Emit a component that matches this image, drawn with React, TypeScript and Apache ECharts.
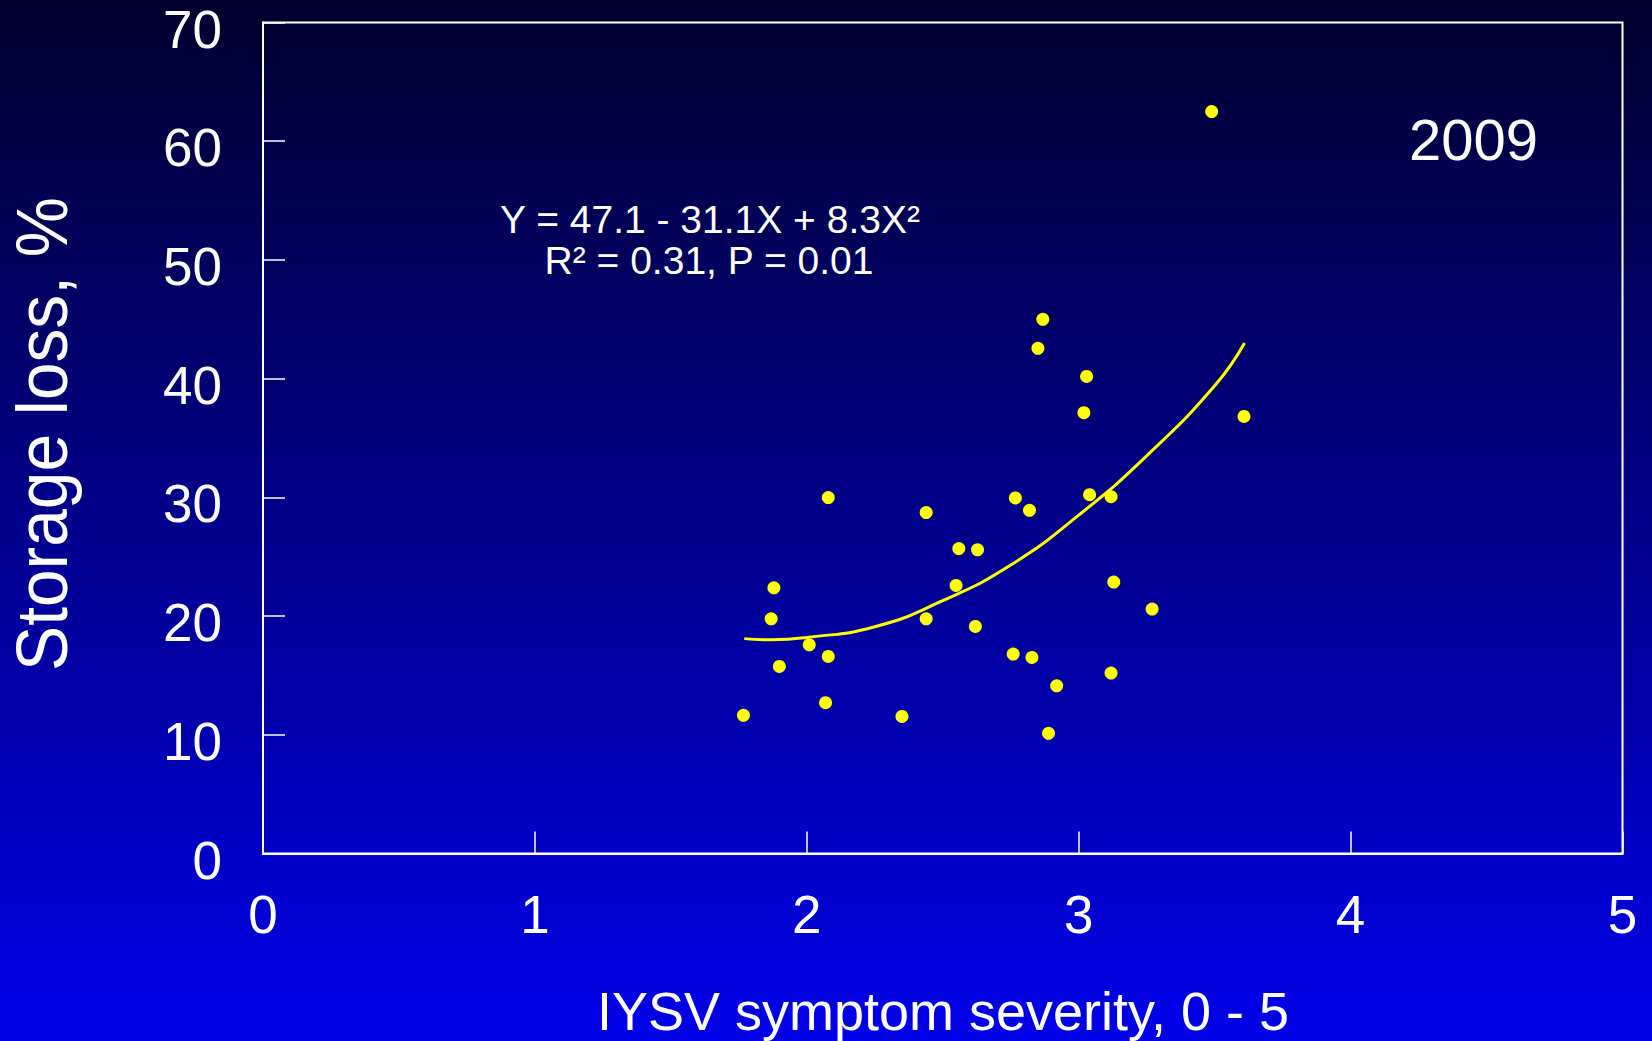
import React, { useEffect, useRef } from "react";
import * as echarts from "echarts";

// IYSV symptom severity (0-5) for each sample
const severity = [
  2.868, 2.85, 3.029, 3.019, 3.608, 2.079, 2.439, 2.767, 2.819, 3.04, 3.119,
  2.559, 2.628, 1.879, 2.549, 3.129, 3.27, 1.869, 2.439, 2.62, 2.009, 2.079,
  2.759, 2.828, 1.899, 3.119, 2.919, 2.069, 1.767, 2.35, 2.889, 3.489,
];
// Storage loss (%) for each sample
const storageLoss = [
  45.0, 42.55, 40.19, 37.13, 36.82, 29.98, 28.72, 29.95, 28.91, 30.23, 30.06,
  25.69, 25.58, 22.38, 22.58, 22.86, 20.59, 19.77, 19.77, 19.13, 17.58, 16.6,
  16.8, 16.52, 15.76, 15.2, 14.13, 12.7, 11.64, 11.55, 10.12, 62.5,
];
// Fitted curve
const fitX = [1.77, 1.87, 2.0, 2.25, 2.5, 2.75, 3.0, 3.25, 3.5, 3.61];
const fitY = [18.1, 18.0, 18.2, 19.1, 21.3, 24.3, 28.5, 33.5, 39.4, 43.0];

const equationLine1 = "Y = 47.1 - 31.1X + 8.3X²";
const equationLine2 = "R² = 0.31, P = 0.01";
const yearLabel = "2009";
const xTitle = "IYSV symptom severity, 0 - 5";
const yTitle = "Storage loss, %";

const FONT = "'Liberation Sans', Arial, Helvetica, sans-serif";

export default function App() {
  const ref = useRef<HTMLDivElement>(null);

  useEffect(() => {
    document.body.style.margin = "0";
    if (!ref.current) return;
    const chart = echarts.init(ref.current, undefined, { renderer: "svg" });
    const scatterData = severity.map((x, i) => [x, storageLoss[i]]);
    const fitData = fitX.map((x, i) => [x, fitY[i]]);

    chart.setOption({
      animation: false,
      backgroundColor: {
        type: "linear",
        x: 0,
        y: 0,
        x2: 0,
        y2: 1,
        colorStops: [
          { offset: 0, color: "rgb(0,0,46)" },
          { offset: 1, color: "rgb(0,0,232)" },
        ],
      },
      grid: {
        left: 263,
        right: 29.5,
        top: 22.5,
        bottom: 187.5,
        show: true,
        borderColor: "#ffffff",
        borderWidth: 2,
        backgroundColor: "transparent",
      },
      xAxis: {
        type: "value",
        min: 0,
        max: 5,
        interval: 1,
        splitLine: { show: false },
        axisLine: { show: true, lineStyle: { color: "#ffffff", width: 2 } },
        axisTick: {
          show: true,
          inside: true,
          length: 22,
          lineStyle: { color: "#ffffff", width: 1.5 },
        },
        axisLabel: {
          color: "#ffffff",
          fontFamily: FONT,
          fontSize: 53,
          margin: 61,
          verticalAlign: "middle",
        },
      },
      yAxis: {
        type: "value",
        min: 0,
        max: 70,
        interval: 10,
        splitLine: { show: false },
        axisLine: { show: true, lineStyle: { color: "#ffffff", width: 2 } },
        axisTick: {
          show: true,
          inside: true,
          length: 22,
          lineStyle: { color: "#ffffff", width: 1.5 },
        },
        axisLabel: {
          color: "#ffffff",
          fontFamily: FONT,
          fontSize: 53,
          margin: 41,
          align: "right",
          verticalAlign: "top",
          lineHeight: 13,
        },
      },
      series: [
        {
          type: "line",
          data: fitData,
          smooth: true,
          showSymbol: false,
          symbol: "none",
          lineStyle: { color: "#ffff00", width: 3, opacity: 1 },
          z: 2,
        },
        {
          type: "scatter",
          data: scatterData,
          symbol: "circle",
          symbolSize: 13,
          itemStyle: { color: "#ffff00", opacity: 1 },
          z: 3,
        },
      ],
      graphic: [
        {
          type: "text",
          x: 710,
          y: 219,
          style: {
            text: equationLine1,
            fill: "#ffffff",
            font: `39px ${FONT}`,
            textAlign: "center",
            textVerticalAlign: "middle",
            align: "center",
            verticalAlign: "middle",
          },
        },
        {
          type: "text",
          x: 709,
          y: 260,
          style: {
            text: equationLine2,
            fill: "#ffffff",
            font: `39px ${FONT}`,
            textAlign: "center",
            textVerticalAlign: "middle",
            align: "center",
            verticalAlign: "middle",
          },
        },
        {
          type: "text",
          x: 1538,
          y: 139,
          style: {
            text: yearLabel,
            fill: "#ffffff",
            font: `58px ${FONT}`,
            textAlign: "right",
            textVerticalAlign: "middle",
            align: "right",
            verticalAlign: "middle",
          },
        },
        {
          type: "text",
          x: 943,
          y: 1011,
          style: {
            text: xTitle,
            fill: "#ffffff",
            font: `54px ${FONT}`,
            textAlign: "center",
            textVerticalAlign: "middle",
            align: "center",
            verticalAlign: "middle",
          },
        },
        {
          type: "text",
          x: 42,
          y: 434,
          rotation: Math.PI / 2,
          scaleX: 0.94,
          style: {
            text: yTitle,
            fill: "#ffffff",
            font: `72px ${FONT}`,
            textAlign: "center",
            textVerticalAlign: "middle",
            align: "center",
            verticalAlign: "middle",
          },
        },
      ],
    });

    return () => {
      chart.dispose();
    };
  }, []);

  return (
    <div
      ref={ref}
      style={{
        position: "absolute",
        left: 0,
        top: 0,
        width: "1652px",
        height: "1041px",
      }}
    />
  );
}
